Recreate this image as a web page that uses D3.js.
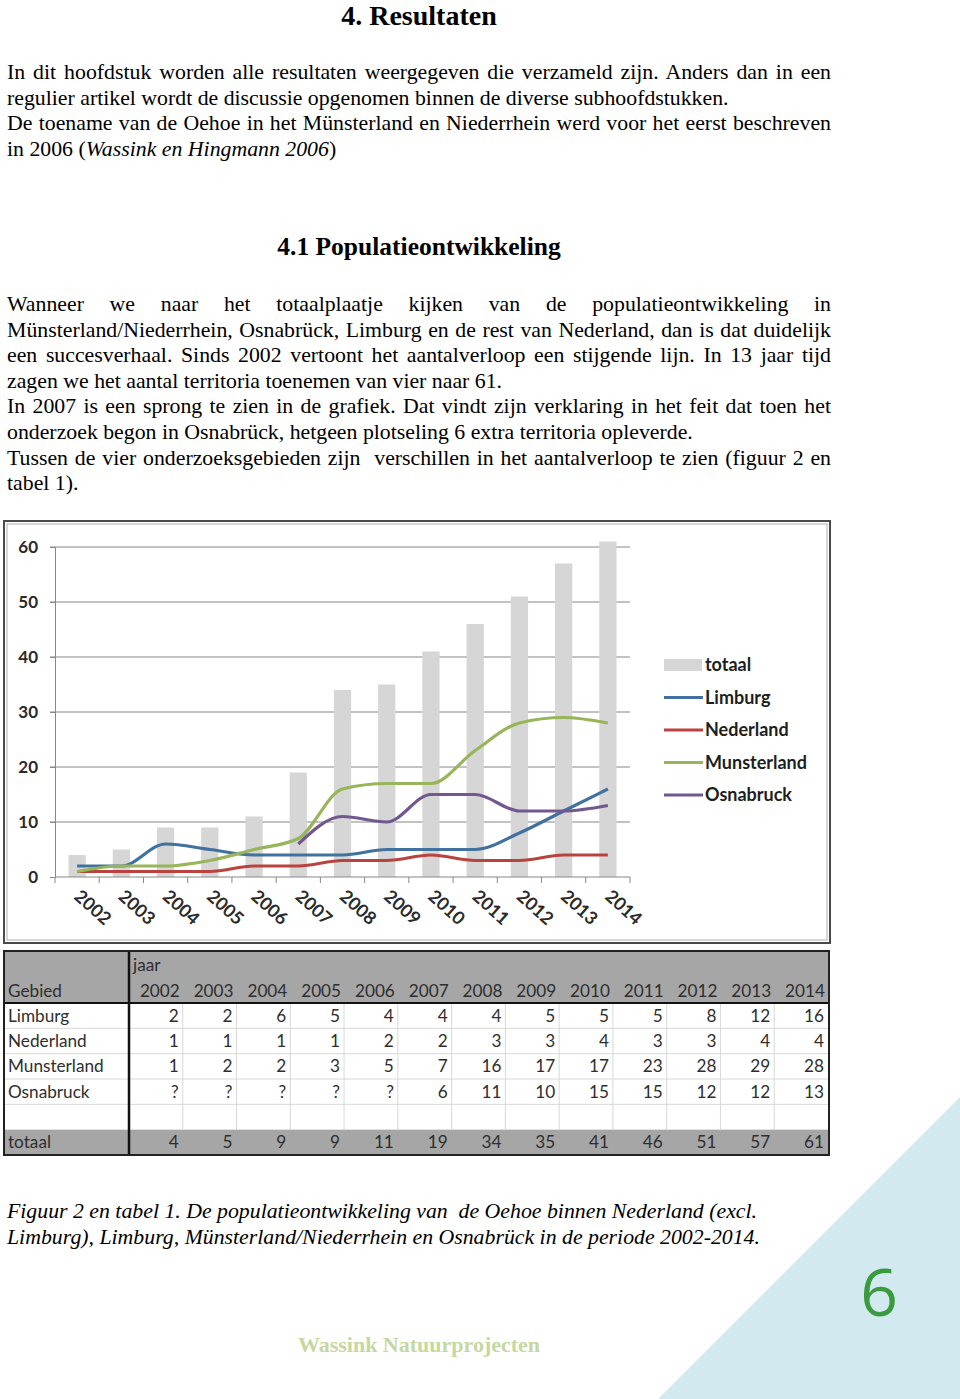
<!DOCTYPE html>
<html><head><meta charset="utf-8">
<script src="https://cdn.jsdelivr.net/npm/d3@7"></script>
<style>body{margin:0;background:#fff} svg{display:block}</style>
</head><body><svg id="page" width="960" height="1399"></svg>
<script>
// ---------- data ----------
const years = ["2002","2003","2004","2005","2006","2007","2008","2009","2010","2011","2012","2013","2014"];
const totaal = [4,5,9,9,11,19,34,35,41,46,51,57,61];
const limburg = [2,2,6,5,4,4,4,5,5,5,8,12,16];
const nederland = [1,1,1,1,2,2,3,3,4,3,3,4,4];
const munsterland = [1,2,2,3,5,7,16,17,17,23,28,29,28];
const osnabruck = [null,null,null,null,null,6,11,10,15,15,12,12,13];
const seriesNames = ["Limburg","Nederland","Munsterland","Osnabruck"];
const seriesValues = [limburg, nederland, munsterland, osnabruck];
const seriesColors = ["#41729f","#b9433f","#98b55a","#73588f"];
const yTicks = [0,10,20,30,40,50,60];

const para1 = [
  {j:true, s:[{t:"In dit hoofdstuk worden alle resultaten weergegeven die verzameld zijn. Anders dan in een"}]},
  {j:false, s:[{t:"regulier artikel wordt de discussie opgenomen binnen de diverse subhoofdstukken."}]},
  {j:true, s:[{t:"De toename van de Oehoe in het Münsterland en Niederrhein werd voor het eerst beschreven"}]},
  {j:false, s:[{t:"in 2006 ("},{t:"Wassink en Hingmann 2006",i:true},{t:")"}]}
];
const para2 = [
  {j:true, s:[{t:"Wanneer we naar het totaalplaatje kijken van de populatieontwikkeling in"}]},
  {j:true, s:[{t:"Münsterland/Niederrhein, Osnabrück, Limburg en de rest van Nederland, dan is dat duidelijk"}]},
  {j:true, s:[{t:"een succesverhaal. Sinds 2002 vertoont het aantalverloop een stijgende lijn. In 13 jaar tijd"}]},
  {j:false, s:[{t:"zagen we het aantal territoria toenemen van vier naar 61."}]},
  {j:true, s:[{t:"In 2007 is een sprong te zien in de grafiek. Dat vindt zijn verklaring in het feit dat toen het"}]},
  {j:false, s:[{t:"onderzoek begon in Osnabrück, hetgeen plotseling 6 extra territoria opleverde."}]},
  {j:true, s:[{t:"Tussen de vier onderzoeksgebieden zijn  verschillen in het aantalverloop te zien (figuur 2 en"}]},
  {j:false, s:[{t:"tabel 1)."}]}
];
const caption = [
  "Figuur 2 en tabel 1. De populatieontwikkeling van  de Oehoe binnen Nederland (excl.",
  "Limburg), Limburg, Münsterland/Niederrhein en Osnabrück in de periode 2002-2014."
];

const svg = d3.select("#page");
svg.append("rect").attr("width",960).attr("height",1399).attr("fill","#fff");

// decorative triangle
svg.append("path").attr("d","M960,1097 L960,1399 L658,1399 Z").attr("fill","#d3e9f0");

// ---------- text ----------
const serif = "'Liberation Serif','Times New Roman',serif";
const BODY = 21.8;
svg.append("text").attr("x",419).attr("y",25).attr("text-anchor","middle")
  .style("font-family",serif).style("font-weight","bold").style("font-size","28px").attr("fill","#000")
  .text("4. Resultaten");
svg.append("text").attr("x",419).attr("y",255).attr("text-anchor","middle")
  .style("font-family",serif).style("font-weight","bold").style("font-size","25.5px").attr("fill","#000")
  .text("4.1 Populatieontwikkeling");

function drawPara(lines, y0, lh){
  lines.forEach((ln,k)=>{
    const t = svg.append("text").attr("x",7).attr("y",y0+k*lh)
      .style("font-family",serif).style("font-size",BODY+"px").style("white-space","pre").attr("fill","#000");
    ln.s.forEach(sg=>{ t.append("tspan").style("font-style",sg.i?"italic":"normal").text(sg.t); });
    if(ln.j){
      const len = t.node().getComputedTextLength();
      const txt = ln.s.map(s=>s.t).join("");
      const n = (txt.match(/ /g)||[]).length;
      if(n) t.style("word-spacing", ((824-len)/n)+"px");
    }
  });
}
drawPara(para1, 79, 25.5);
drawPara(para2, 311, 25.6);

caption.forEach((c,k)=>{
  svg.append("text").attr("x",7).attr("y",1218+k*25.5)
    .style("font-family",serif).style("font-style","italic").style("font-size",BODY+"px").style("white-space","pre")
    .attr("fill","#000").text(c);
});

svg.append("text").attr("x",879).attr("y",1316).attr("text-anchor","middle")
  .style("font-family","'Liberation Sans Narrow','Open Sans',sans-serif").style("font-size","66px")
  .attr("fill","#3a9a3e").text("6");
svg.append("text").attr("x",419).attr("y",1352).attr("text-anchor","middle")
  .style("font-family",serif).style("font-weight","bold").style("font-size","22px")
  .attr("fill","#c5d8a0").text("Wassink Natuurprojecten");

// ---------- chart ----------
const sans = "Lato,'Open Sans',sans-serif";
const cg = svg.append("g");
cg.append("rect").attr("x",4).attr("y",521).attr("width",826).attr("height",422)
  .attr("fill","#fff").attr("stroke","#4a4a4a").attr("stroke-width",2);
cg.append("rect").attr("x",7).attr("y",524).attr("width",820).attr("height",416)
  .attr("fill","none").attr("stroke","#b0b0b0").attr("stroke-width",1);

const x = d3.scaleBand().domain(years).range([55,630]).paddingInner(0.61).paddingOuter(0.305);
const y = d3.scaleLinear().domain([0,60]).range([877,547]);
const cx = d => x(d) + x.bandwidth()/2;

// gridlines
cg.append("g").selectAll("line").data(yTicks.filter(v=>v>0)).join("line")
  .attr("x1",50).attr("x2",630).attr("y1",d=>y(d)).attr("y2",d=>y(d))
  .attr("stroke","#858585").attr("stroke-width",1);

// y axis
const yAxis = cg.append("g").attr("transform","translate(55,0)")
  .call(d3.axisLeft(y).tickValues(yTicks).tickSize(5).tickPadding(12));
yAxis.select(".domain").attr("stroke","#888");
yAxis.selectAll(".tick line").attr("stroke","#888");
yAxis.selectAll("text").style("font-family",sans).style("font-weight","bold").style("font-size","17px").attr("fill","#2a2a2a");

// bars
cg.append("g").selectAll("rect").data(years).join("rect")
  .attr("x",d=>x(d)).attr("width",x.bandwidth())
  .attr("y",(d,i)=>y(totaal[i])).attr("height",(d,i)=>y(0)-y(totaal[i]))
  .attr("fill","#d6d6d6");

// x axis
cg.append("line").attr("x1",55).attr("x2",630).attr("y1",y(0)).attr("y2",y(0)).attr("stroke","#888");
const bounds = years.map(d=>x(d) - x.step()*x.paddingOuter()).concat([630]);
cg.append("g").selectAll("line").data(bounds).join("line")
  .attr("x1",d=>d).attr("x2",d=>d).attr("y1",y(0)).attr("y2",y(0)+6).attr("stroke","#888");
cg.append("g").selectAll("text").data(years).join("text")
  .attr("transform",d=>`translate(${cx(d)-4},${y(0)+21}) rotate(42)`)
  .style("font-family",sans).style("font-weight","bold").style("font-size","18px").attr("fill","#2a2a2a")
  .text(d=>d);

// lines
const line = d3.line().defined(d=>d.v!=null).x(d=>cx(d.k)).y(d=>y(d.v)).curve(d3.curveMonotoneX);
seriesValues.forEach((vals,si)=>{
  const pts = years.map((k,i)=>({k, v: vals[i]}));
  cg.append("path").datum(pts).attr("d",line).attr("fill","none")
    .attr("stroke",seriesColors[si]).attr("stroke-width",3.2).attr("stroke-linejoin","round");
});

// legend
const leg = cg.append("g");
const legNames = ["totaal"].concat(seriesNames);
legNames.forEach((nm,i)=>{
  const ly = 665 + i*32.5;
  if(i===0){
    leg.append("rect").attr("x",664).attr("y",ly-6).attr("width",38).attr("height",12).attr("fill","#d6d6d6");
  } else {
    leg.append("line").attr("x1",664).attr("x2",703).attr("y1",ly).attr("y2",ly)
      .attr("stroke",seriesColors[i-1]).attr("stroke-width",3.2);
  }
  leg.append("text").attr("x",705).attr("y",ly+6)
    .style("font-family",sans).style("font-weight","bold").style("font-size","18px").attr("fill","#1e1e1e").text(nm);
});

// ---------- table ----------
const tg = svg.append("g");
const rowNames = ["Limburg","Nederland","Munsterland","Osnabruck","","totaal"];
const rowVals = [limburg, nederland, munsterland, osnabruck, null, totaal];
const tx = d3.scaleBand().domain(years).range([129,828]);
const ty = d3.scaleBand().domain(rowNames.map((r,i)=>i)).range([1003,1155]);

tg.append("rect").attr("x",4).attr("y",951).attr("width",825).attr("height",204).attr("fill","#fff");
tg.append("rect").attr("x",4).attr("y",951).attr("width",825).attr("height",52).attr("fill","#a6a6a6");
tg.append("rect").attr("x",4).attr("y",ty(5)).attr("width",825).attr("height",ty.bandwidth()).attr("fill","#a6a6a6");
tg.append("g").selectAll("line").data([1,2,3,4]).join("line")
  .attr("x1",4).attr("x2",829).attr("y1",d=>ty(d)).attr("y2",d=>ty(d)).attr("stroke","#d8d8d8");
tg.append("g").selectAll("line").data(years.slice(1)).join("line")
  .attr("x1",d=>tx(d)).attr("x2",d=>tx(d)).attr("y1",1004).attr("y2",ty(5)).attr("stroke","#d8d8d8");
tg.append("line").attr("x1",4).attr("x2",829).attr("y1",1003).attr("y2",1003).attr("stroke","#111").attr("stroke-width",2);
tg.append("line").attr("x1",129).attr("x2",129).attr("y1",951).attr("y2",1155).attr("stroke","#111").attr("stroke-width",2.5);
tg.append("rect").attr("x",4).attr("y",951).attr("width",825).attr("height",204)
  .attr("fill","none").attr("stroke","#222").attr("stroke-width",2);

const tfont = s => s.style("font-family",sans).style("font-size","17.2px").attr("fill","#2e2e2e");
tfont(tg.append("text").attr("x",133).attr("y",971).text("jaar"));
tfont(tg.append("text").attr("x",8).attr("y",997).text("Gebied"));
tg.append("g").selectAll("text").data(years).join("text")
  .attr("x",d=>tx(d)+tx.bandwidth()-3).attr("y",997).attr("text-anchor","end").text(d=>d).call(tfont);
rowNames.forEach((rn,ri)=>{
  const by = ty(ri) + ty.bandwidth()/2 + 6;
  if(rn) tfont(tg.append("text").attr("x",8).attr("y",by).text(rn));
  const vals = rowVals[ri];
  if(!vals) return;
  tg.append("g").selectAll("text").data(years).join("text")
    .attr("x",d=>tx(d)+tx.bandwidth()-4).attr("y",by).attr("text-anchor","end")
    .text((d,i)=>vals[i]==null?"?":vals[i]).call(tfont);
});
</script></body></html>
